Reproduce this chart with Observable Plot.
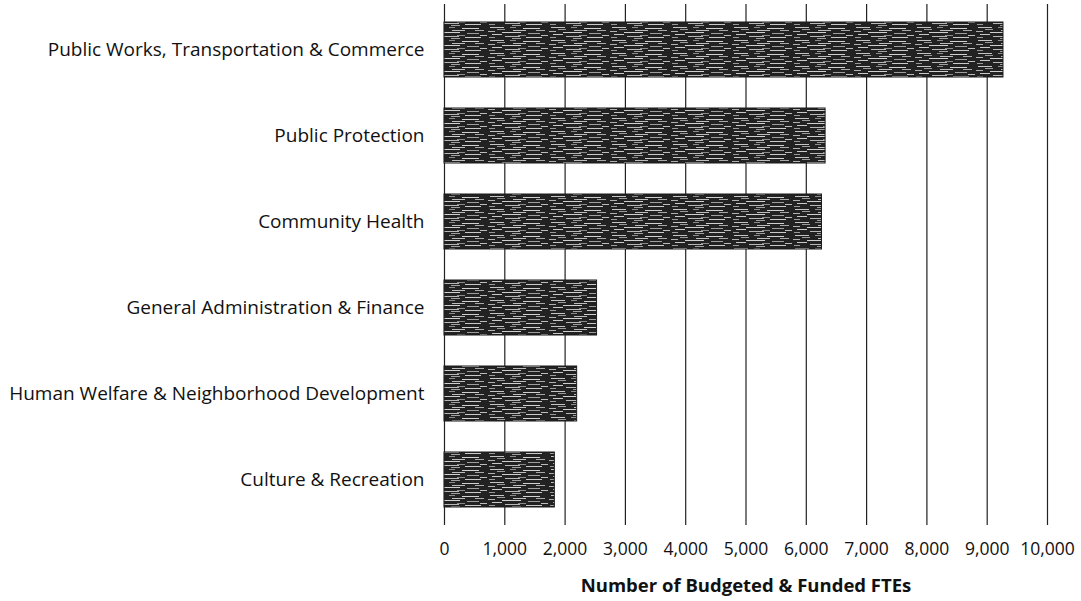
<!DOCTYPE html>
<html>
<head>
<meta charset="utf-8">
<script src="https://cdn.jsdelivr.net/npm/d3@7"></script>
<script src="https://cdn.jsdelivr.net/npm/@observablehq/plot@0.6"></script>
<style>
  body { margin: 0; background: #fff; }
  #chart { width: 1081px; height: 601px; }
</style>
</head>
<body>
<div id="chart"></div>
<script>
const categories = [
  "Public Works, Transportation & Commerce",
  "Public Protection",
  "Community Health",
  "General Administration & Finance",
  "Human Welfare & Neighborhood Development",
  "Culture & Recreation"
];
const ftes = [9270, 6320, 6260, 2530, 2200, 1830];
const xTicks = [0, 1000, 2000, 3000, 4000, 5000, 6000, 7000, 8000, 9000, 10000];
const xTitle = "Number of Budgeted & Funded FTEs";

const data = categories.map((c, i) => ({category: c, value: ftes[i]}));
const font = "'Open Sans', Lato, sans-serif";

const chart = Plot.plot({
  width: 1081,
  height: 601,
  marginLeft: 444,
  marginRight: 34,
  marginTop: 4,
  marginBottom: 76,
  style: {fontFamily: font, fontSize: "18px", color: "#111", background: "#fff"},
  x: {domain: [0, 10000], ticks: xTicks, label: null},
  y: {domain: categories, paddingInner: 0.36, paddingOuter: 0.18, label: null},
  marks: [
    Plot.ruleX(xTicks, {stroke: "#222", strokeWidth: 1.2}),
    Plot.barX(data, {y: "category", x: "value", fill: "url(#scanfill)", stroke: "#1a1a1a", strokeWidth: 1}),
    Plot.axisX({ticks: xTicks, tickSize: 0, tickPadding: 17, line: true, tickFormat: d3.format(","), fontSize: 17.5, fill: "#111", stroke: "#222", label: null}),
    Plot.axisY({tickSize: 0, tickPadding: 20, fontSize: 19, fill: "#111", label: null}),
    Plot.text([xTitle], {frameAnchor: "bottom", dy: 66, fontWeight: "bold", fontSize: 18.5, fill: "#111"})
  ]
});

// texture pattern approximating the scanned dark fill
const ns = "http://www.w3.org/2000/svg";
const defs = document.createElementNS(ns, "defs");
defs.innerHTML = `
<pattern id="scanfill" patternUnits="userSpaceOnUse" width="61" height="13">
  <rect width="61" height="13" fill="#222"/>
  <rect x="2" y="1" width="14" height="1" fill="#c4c4c4"/>
  <rect x="22" y="1" width="6" height="1" fill="#8c8c8c"/>
  <rect x="35" y="2" width="17" height="1" fill="#d0d0d0"/>
  <rect x="9" y="3" width="8" height="1" fill="#9a9a9a"/>
  <rect x="25" y="4" width="13" height="1" fill="#bdbdbd"/>
  <rect x="48" y="4" width="9" height="1" fill="#a8a8a8"/>
  <rect x="0" y="5" width="7" height="1" fill="#b0b0b0"/>
  <rect x="14" y="6" width="19" height="1" fill="#cfcfcf"/>
  <rect x="40" y="7" width="12" height="1" fill="#9e9e9e"/>
  <rect x="4" y="8" width="10" height="1" fill="#c8c8c8"/>
  <rect x="30" y="9" width="8" height="1" fill="#8a8a8a"/>
  <rect x="53" y="9" width="7" height="1" fill="#bcbcbc"/>
  <rect x="17" y="10" width="15" height="1" fill="#b8b8b8"/>
  <rect x="1" y="11" width="6" height="1" fill="#999"/>
  <rect x="38" y="11" width="16" height="1" fill="#c9c9c9"/>
  <rect x="24" y="12" width="9" height="1" fill="#a0a0a0"/>
</pattern>`;
chart.insertBefore(defs, chart.firstChild);

document.getElementById("chart").appendChild(chart);
</script>
</body>
</html>
